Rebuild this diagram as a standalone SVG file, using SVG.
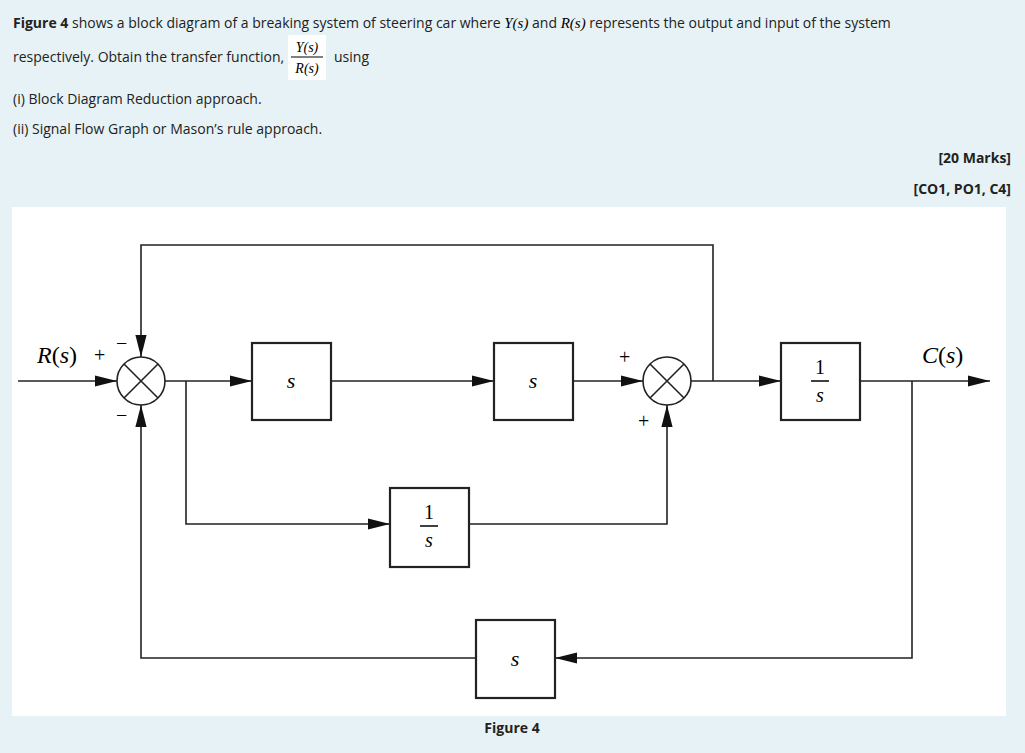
<svg xmlns="http://www.w3.org/2000/svg" width="1025" height="753" viewBox="0 0 1025 753">
<style>
.t{font-family:"Open Sans","Liberation Sans",sans-serif;font-size:14px;fill:#222}
.m{font-family:"Liberation Serif",serif;font-style:italic;fill:#000}
.l{stroke:#222;stroke-width:1.6;fill:none}
.b{stroke:#222;stroke-width:2.2;fill:#fff}
.sg{font-family:"Liberation Serif",serif;font-size:20px;fill:#000}
</style>
<defs><marker id="a" viewBox="0 0 10 10" refX="10" refY="5" markerWidth="12" markerHeight="12" markerUnits="userSpaceOnUse" orient="auto"><path d="M0,1 L10,5 L0,9 z" fill="#111"/></marker>
<marker id="a2" viewBox="0 0 10 10" refX="10" refY="5" markerWidth="22" markerHeight="14" markerUnits="userSpaceOnUse" orient="auto" preserveAspectRatio="none"><path d="M0,1 L10,5 L0,9 z" fill="#111"/></marker></defs>
<rect width="1025" height="753" fill="#e6f2f5"/>
<text class="t" x="13" y="28"><tspan font-weight="bold">Figure 4</tspan> shows a block diagram of a breaking system of steering car where <tspan class="m" font-size="15">Y(s)</tspan> and <tspan class="m" font-size="15">R(s)</tspan>  represents the output and input of the system</text>
<text class="t" x="13" y="62">respectively. Obtain the transfer function,</text>
<rect x="288" y="35" width="38" height="45" fill="#fff"/>
<text class="m" x="307" y="52" font-size="14" text-anchor="middle">Y(s)</text>
<line x1="291" y1="57" x2="323" y2="57" stroke="#000" stroke-width="1"/>
<text class="m" x="307" y="73" font-size="14" text-anchor="middle">R(s)</text>
<text class="t" x="334" y="62">using</text>
<text class="t" x="13" y="104">(i) Block Diagram Reduction approach.</text>
<text class="t" x="13" y="134">(ii) Signal Flow Graph or Mason’s rule approach.</text>
<text class="t" x="1011" y="163" text-anchor="end" font-weight="bold">[20 Marks]</text>
<text class="t" x="1011" y="194" text-anchor="end" font-weight="bold">[CO1, PO1, C4]</text>
<rect x="12" y="207" width="994" height="509" fill="#fff"/>
<g id="connectors">
<path class="l" d="M18,381 H117" marker-end="url(#a2)"/>
<path class="l" d="M165,381 H252" marker-end="url(#a2)"/>
<path class="l" d="M331,381 H494" marker-end="url(#a2)"/>
<path class="l" d="M573,381 H643" marker-end="url(#a2)"/>
<path class="l" d="M691,381 H781" marker-end="url(#a2)"/>
<path class="l" d="M860,381 H990" marker-end="url(#a2)"/>
<path class="l" d="M713,381 V245 H141 V357" marker-end="url(#a2)"/>
<path class="l" d="M186,381 V524 H390" marker-end="url(#a2)"/>
<path class="l" d="M469,524 H667 V405" marker-end="url(#a2)"/>
<path class="l" d="M912,381 V658 H555" marker-end="url(#a2)"/>
<path class="l" d="M476,658 H141 V405" marker-end="url(#a2)"/>
</g>
<g id="sum1"><circle class="l" cx="141" cy="381" r="24" stroke-width="2"/><path class="l" d="M124,364 L158,398 M158,364 L124,398" stroke-width="2"/></g>
<g id="sum2"><circle class="l" cx="667" cy="381" r="24" stroke-width="2"/><path class="l" d="M650,364 L684,398 M684,364 L650,398" stroke-width="2"/></g>
<g id="b1"><rect class="b" x="252" y="343" width="79" height="77"/><text class="m" x="291" y="388" font-size="22" text-anchor="middle">s</text></g>
<g id="b2"><rect class="b" x="494" y="343" width="79" height="77"/><text class="m" x="533" y="388" font-size="22" text-anchor="middle">s</text></g>
<g id="b3"><rect class="b" x="781" y="343" width="79" height="77"/><text x="820" y="374" font-family="Liberation Serif,serif" font-size="20" text-anchor="middle">1</text><line x1="811" y1="381" x2="829" y2="381" stroke="#000" stroke-width="1.5"/><text class="m" x="820" y="402" font-size="20" text-anchor="middle">s</text></g>
<g id="b4"><rect class="b" x="390" y="488" width="79" height="79"/><text x="429" y="519" font-family="Liberation Serif,serif" font-size="20" text-anchor="middle">1</text><line x1="420" y1="526" x2="438" y2="526" stroke="#000" stroke-width="1.5"/><text class="m" x="429" y="547" font-size="20" text-anchor="middle">s</text></g>
<g id="b5"><rect class="b" x="476" y="620" width="79" height="78"/><text class="m" x="515" y="666" font-size="22" text-anchor="middle">s</text></g>
<g id="labels">
<text class="m" x="37" y="363" font-size="24"><tspan>R</tspan><tspan font-style="normal">(</tspan>s<tspan font-style="normal">)</tspan></text>
<text class="sg" x="94" y="362">+</text>
<text class="sg" x="116" y="350">−</text>
<text class="sg" x="116" y="422">−</text>
<text class="sg" x="619" y="364">+</text>
<text class="sg" x="638" y="428">+</text>
<text class="m" x="922" y="363" font-size="24"><tspan>C</tspan><tspan font-style="normal">(</tspan>s<tspan font-style="normal">)</tspan></text>
</g>
<text class="t" x="512" y="733" text-anchor="middle" font-weight="bold">Figure 4</text>
</svg>
